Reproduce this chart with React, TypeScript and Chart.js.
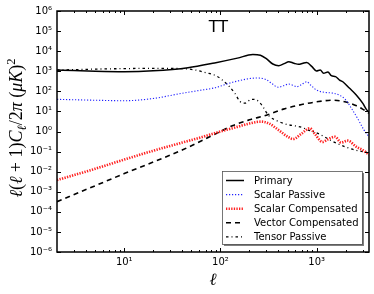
import { useEffect, useRef } from 'react';
import { Chart, registerables } from 'chart.js';

Chart.register(...registerables);

const seriesNames = ['Primary', 'Scalar Passive', 'Scalar Compensated', 'Vector Compensated', 'Tensor Passive'];

const primaryEll = [2, 3, 5, 10, 20, 46, 87, 150, 217, 260, 300, 350, 403, 460, 513, 580, 650, 720, 787, 894, 993, 1090, 1180, 1310, 1420, 1570, 1730, 1870, 2200, 2580, 3020, 3270, 3500];
const primaryVals = [1150, 1080, 1000, 950, 1050, 1500, 2600, 4500, 6800, 6200, 4200, 2300, 1900, 2400, 3000, 2500, 2200, 2500, 2700, 1690, 1030, 1150, 790, 920, 600, 540, 366, 300, 141, 66, 25, 13, 9];

const scalarPassiveEll = [2, 5, 10, 20, 40, 60, 87, 140, 240, 300, 340, 400, 450, 513, 570, 620, 700, 787, 870, 1000, 1200, 1500, 1750, 2000, 2350, 2700, 3100, 3500];
const scalarPassiveVals = [40, 36, 34, 44, 80, 110, 150, 300, 460, 380, 250, 160, 190, 230, 200, 170, 220, 300, 200, 115, 90, 80, 62, 38, 12, 4, 1.2, 0.55];

const scalarCompEll = [2, 5, 10, 20, 40, 60, 100, 150, 200, 265, 320, 400, 500, 570, 700, 850, 950, 1150, 1300, 1550, 1800, 2100, 2600, 3000, 3500];
const scalarCompVals = [0.0038, 0.014, 0.04, 0.11, 0.28, 0.48, 1.0, 1.7, 2.5, 3.1, 2.5, 1.2, 0.55, 0.42, 0.8, 1.45, 0.8, 0.3, 0.4, 0.55, 0.28, 0.35, 0.17, 0.12, 0.07];

const vectorCompEll = [2, 5, 10, 20, 40, 60, 100, 135, 200, 300, 450, 700, 1000, 1450, 1800, 2200, 2600, 3000, 3500];
const vectorCompVals = [0.00032, 0.002, 0.008, 0.03, 0.12, 0.3, 1.0, 2.0, 3.8, 6.5, 13, 22, 30, 36, 33, 26, 19, 13, 8];

const tensorPassiveEll = [2, 3, 5, 10, 20, 40, 55, 70, 91, 120, 141, 160, 180, 210, 237, 277, 300, 325, 400, 500, 600, 700, 850, 1000, 1200, 1450, 2000, 2500, 3000, 3500];
const tensorPassiveVals = [1150, 1200, 1280, 1350, 1400, 1350, 1150, 850, 580, 200, 80, 31, 26, 40, 37, 17, 9, 5.5, 3.2, 2.2, 1.9, 1.6, 1.1, 0.85, 0.55, 0.33, 0.17, 0.12, 0.1, 0.09];

const yTickExponents = [-6, -5, -4, -3, -2, -1, 0, 1, 2, 3, 4, 5, 6];
const xTickValues = [10, 100, 1000];
const xMinorDecades = [1, 10, 100, 1000];

const SUP: Record<string, string> = { '-': '⁻', '0': '⁰', '1': '¹', '2': '²', '3': '³', '4': '⁴', '5': '⁵', '6': '⁶', '7': '⁷', '8': '⁸', '9': '⁹' };
function powLabel(v: number): string {
  const e = Math.round(Math.log10(v));
  return '10' + String(e).split('').map((c) => SUP[c] || c).join('');
}

const seriesStyles = [
  { color: '#000000', width: 1.5, dash: [] as number[] },
  { color: '#2222ff', width: 1.1, dash: [1.2, 1.8] },
  { color: '#ff2020', width: 2.6, dash: [1.3, 1.3] },
  { color: '#000000', width: 1.6, dash: [5, 4] },
  { color: '#000000', width: 1.3, dash: [2.5, 3, 1, 3] },
];

const seriesData = [
  [primaryEll, primaryVals],
  [scalarPassiveEll, scalarPassiveVals],
  [scalarCompEll, scalarCompVals],
  [vectorCompEll, vectorCompVals],
  [tensorPassiveEll, tensorPassiveVals],
];

const framePlugin = {
  id: 'frameTicks',
  afterDatasetsDraw(chart: any) {
    const ctx = chart.ctx;
    const { left, right, top, bottom } = chart.chartArea;
    const xs = chart.scales.x;
    const ys = chart.scales.y;
    ctx.save();
    ctx.strokeStyle = '#000';
    ctx.lineWidth = 1;
    ctx.beginPath();
    yTickExponents.forEach((e) => {
      const py = Math.round(ys.getPixelForValue(10 ** e)) + 0.5;
      ctx.moveTo(left, py); ctx.lineTo(left + 4, py);
      ctx.moveTo(right, py); ctx.lineTo(right - 4, py);
    });
    xTickValues.forEach((v) => {
      const px = Math.round(xs.getPixelForValue(v)) + 0.5;
      ctx.moveTo(px, bottom); ctx.lineTo(px, bottom - 4);
      ctx.moveTo(px, top); ctx.lineTo(px, top + 4);
    });
    xMinorDecades.forEach((d) => {
      for (let k = 2; k <= 9; k++) {
        const v = d * k;
        if (v <= xs.min || v >= xs.max) continue;
        const px = Math.round(xs.getPixelForValue(v)) + 0.5;
        ctx.moveTo(px, bottom); ctx.lineTo(px, bottom - 2);
        ctx.moveTo(px, top); ctx.lineTo(px, top + 2);
      }
    });
    ctx.stroke();
    ctx.lineWidth = 1.5;
    ctx.strokeRect(left, top, right - left, bottom - top);
    ctx.restore();
  },
  afterDraw(chart: any) {
    const ctx = chart.ctx;
    const { left, right, top, bottom } = chart.chartArea;
    ctx.save();
    // title
    ctx.fillStyle = '#000';
    ctx.font = '16px "DejaVu Sans"';
    ctx.textAlign = 'center';
    ctx.textBaseline = 'alphabetic';
    ctx.fillText('TT', 218.5, 32);
    // x label
    ctx.font = 'italic 17px "DejaVu Serif"';
    ctx.fillText('ℓ', (left + right) / 2, 285);
    // y label pieces
    const base = 18;
    const pieces: [string, boolean, number, number][] = [
      ['ℓ', true, base, 0], ['(', false, base, 0], ['ℓ', true, base, 0], [' + 1)', false, base, 0],
      ['C', true, base, 0], ['ℓ', true, base * 0.7, -3.5], ['/2', false, base, 0], ['π', true, base, 0],
      [' (', false, base, 0], ['μK', true, base, 0], [')', false, base, 0], ['2', false, base * 0.7, 7],
    ];
    const fontFor = (it: boolean, sz: number) => `${it ? 'italic ' : ''}${sz}px "Liberation Serif", "DejaVu Serif", serif`;
    let total = 0;
    pieces.forEach(([t, it, sz]) => { ctx.font = fontFor(it, sz); total += ctx.measureText(t).width; });
    ctx.translate(22, 128);
    ctx.rotate(-Math.PI / 2);
    ctx.textAlign = 'left';
    let cx = -total / 2;
    pieces.forEach(([t, it, sz, dy]) => {
      ctx.font = fontFor(it, sz);
      ctx.fillText(t, cx, -dy);
      cx += ctx.measureText(t).width;
    });
    ctx.restore();

    // legend
    ctx.save();
    const bx = 222, by = 171, bw = 140, bh = 73;
    ctx.fillStyle = 'rgba(0,0,0,0.5)';
    ctx.fillRect(bx + 2, by + 2, bw, bh);
    ctx.fillStyle = '#fff';
    ctx.fillRect(bx, by, bw, bh);
    ctx.strokeStyle = '#555';
    ctx.lineWidth = 0.8;
    ctx.strokeRect(bx + 0.5, by + 0.5, bw, bh);
    ctx.font = '10px "DejaVu Sans"';
    ctx.textAlign = 'left';
    ctx.textBaseline = 'middle';
    chart.data.datasets.forEach((ds: any, i: number) => {
      const ry = 180.5 + i * 14.1;
      ctx.beginPath();
      ctx.strokeStyle = ds.borderColor;
      ctx.lineWidth = ds.borderWidth;
      ctx.setLineDash(ds.borderDash || []);
      ctx.moveTo(226, ry);
      ctx.lineTo(244, ry);
      ctx.stroke();
      ctx.setLineDash([]);
      ctx.fillStyle = '#000';
      ctx.fillText(ds.label, 254, ry + 0.5);
    });
    ctx.restore();
  },
};

export default function App() {
  const ref = useRef<HTMLCanvasElement | null>(null);
  useEffect(() => {
    if (!ref.current) return;
    const datasets = seriesNames.map((name, i) => ({
      label: name,
      data: seriesData[i][0].map((l, j) => ({ x: l, y: seriesData[i][1][j] })),
      borderColor: seriesStyles[i].color,
      borderWidth: seriesStyles[i].width,
      borderDash: seriesStyles[i].dash,
      pointRadius: 0,
      fill: false,
      cubicInterpolationMode: 'monotone' as const,
    }));
    const tickFont = { family: '"DejaVu Sans"', size: 10 };
    const chart = new Chart(ref.current, {
      type: 'line',
      data: { datasets },
      options: {
        animation: false,
        responsive: false,
        layout: { padding: { left: 0, right: 5, top: 11, bottom: 0 } },
        plugins: { legend: { display: false }, tooltip: { enabled: false }, title: { display: false } },
        scales: {
          x: {
            type: 'logarithmic',
            min: 2,
            max: 3500,
            grid: { display: false, drawTicks: false },
            border: { display: false },
            ticks: { padding: 4, color: '#000', font: tickFont, autoSkip: false, maxRotation: 0, callback: (v: any) => powLabel(Number(v)) },
            afterBuildTicks: (s: any) => { s.ticks = xTickValues.map((v) => ({ value: v })); },
            afterFit: (s: any) => { s.height = 42; },
          },
          y: {
            type: 'logarithmic',
            min: 1e-6,
            max: 1e6,
            grid: { display: false, drawTicks: false },
            border: { display: false },
            ticks: { padding: 5, color: '#000', font: tickFont, autoSkip: false, callback: (v: any) => powLabel(Number(v)) },
            afterBuildTicks: (s: any) => { s.ticks = yTickExponents.map((e) => ({ value: 10 ** e })); },
            afterFit: (s: any) => { s.width = 57; },
          },
        },
      },
      plugins: [framePlugin],
    });
    return () => chart.destroy();
  }, []);
  return (
    <div style={{ position: 'fixed', left: 0, top: 0, width: 374, height: 294, background: '#fff' }}>
      <canvas ref={ref} width={374} height={294} style={{ width: 374, height: 294 }} />
    </div>
  );
}
